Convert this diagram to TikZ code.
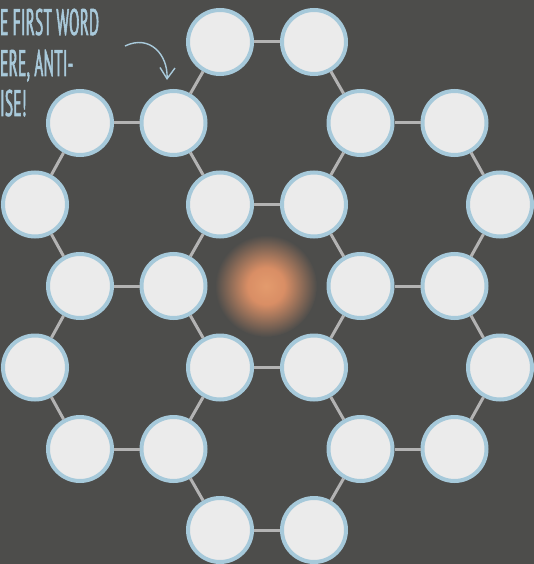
\documentclass[tikz,border=0pt]{standalone}
\usepackage{fontspec}
\usetikzlibrary{arrows.meta}
\newfontfamily\notefont[FakeStretch=0.41,LetterSpace=1,FakeBold=1.5]{PT Sans}
\definecolor{bgc}{HTML}{4D4D4B}
\definecolor{beadfill}{HTML}{EBEBEB}
\definecolor{beadline}{HTML}{A6C9DA}
\definecolor{linkc}{HTML}{B3B3B3}
\definecolor{notec}{HTML}{A9CADB}
\definecolor{glowin}{HTML}{E39B6D}
\definecolor{glowmid}{HTML}{D98E65}
\definecolor{glowedge}{HTML}{936E58}
\pgfdeclareradialshading{glow}{\pgfpoint{0bp}{0bp}}{color(0bp)=(glowin); color(9bp)=(glowmid); color(17bp)=(glowedge); color(25bp)=(bgc); color(50bp)=(bgc)}

\begin{document}
\begin{tikzpicture}[x=1pt,y=-1pt,
    bead/.style={circle,draw=beadline,fill=beadfill,line width=4pt,minimum size=64pt,inner sep=0pt},
    link/.style={draw=linkc,line width=3pt},
    note/.style={text=notec,font=\notefont\fontsize{37}{37}\selectfont,anchor=base west,inner sep=0pt}]
            \useasboundingbox (0,0) rectangle (534,564);
            \fill[bgc] (0,0) rectangle (534,564);

            \coordinate (core) at (266,286);
            \shade[shading=glow] (core) circle (51pt);

            \node[bead] (a1) at (220,42) {};
            \node[bead] (a2) at (314,42) {};
            \node[bead] (b1) at (80,123) {};
            \node[bead] (b2) at (173.5,123) {};
            \node[bead] (b3) at (360.5,123) {};
            \node[bead] (b4) at (454.5,123) {};
            \node[bead] (c1) at (35,204.5) {};
            \node[bead] (c2) at (220,204.5) {};
            \node[bead] (c3) at (314,204.5) {};
            \node[bead] (c4) at (500,204.5) {};
            \node[bead] (d1) at (80,286) {};
            \node[bead] (d2) at (173.5,286) {};
            \node[bead] (d3) at (360.5,286) {};
            \node[bead] (d4) at (454.5,286) {};
            \node[bead] (e1) at (35,367.5) {};
            \node[bead] (e2) at (220,367.5) {};
            \node[bead] (e3) at (314,367.5) {};
            \node[bead] (e4) at (500,367.5) {};
            \node[bead] (f1) at (80,449) {};
            \node[bead] (f2) at (173.5,449) {};
            \node[bead] (f3) at (360.5,449) {};
            \node[bead] (f4) at (454.5,449) {};
            \node[bead] (g1) at (220,530) {};
            \node[bead] (g2) at (314,530) {};

            \foreach \u/\v in {a1/a2,a2/b3,b3/c3,c3/c2,c2/b2,b2/a1,
                b1/b2,c2/d2,d2/d1,d1/c1,c1/b1,
                b3/b4,b4/c4,c4/d4,d4/d3,d3/c3,
                d3/e3,e3/e2,e2/d2,
                e2/f2,f2/f1,f1/e1,e1/d1,
                d4/e4,e4/f4,f4/f3,f3/e3,
                f3/g2,g2/g1,g1/f2}{
                \draw[link] (\u) -- (\v);
            }

            \node[note] (line1) at (0,35) {E FIRST WORD};
            \node[note] (line2) at (0,76) {ERE, ANTI-};
            \node[note] (line3) at (0,116) {ISE!};

            \coordinate (tail) at (125,46);
            \coordinate (tip) at (167,80);
            \draw[notec,line width=1.4pt,-{Straight Barb[length=11pt,width=15pt]}] (tail) .. controls (150,34) and (168,55) .. (tip);
        \end{tikzpicture}
\end{document}
